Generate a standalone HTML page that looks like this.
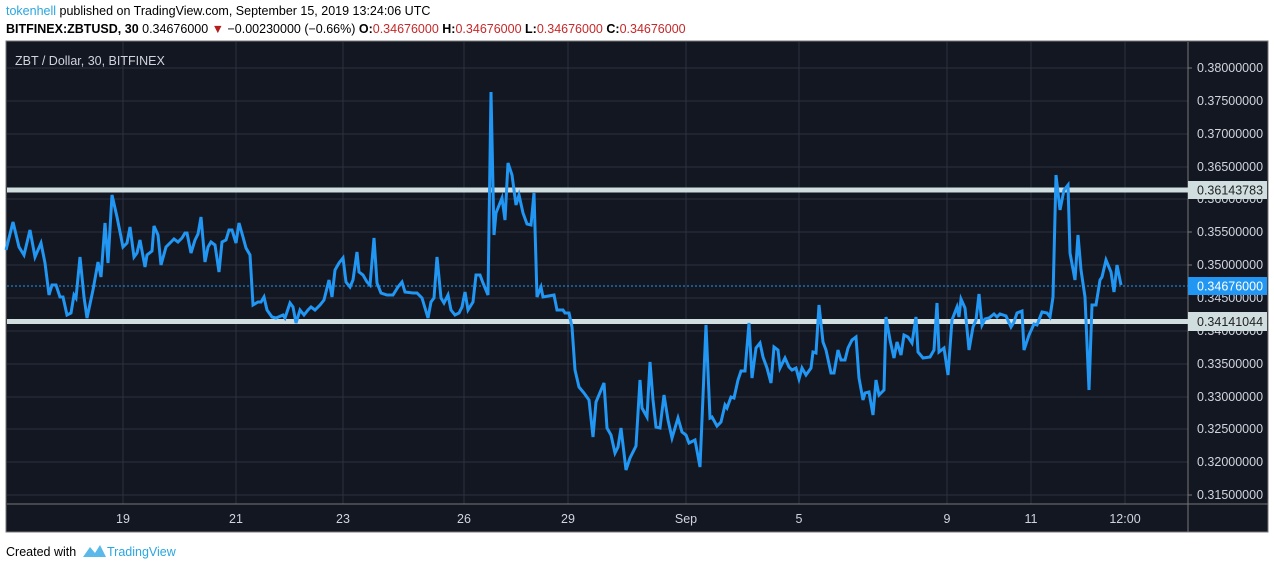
<!DOCTYPE html>
<html><head><meta charset="utf-8"><style>
body{margin:0;width:1274px;height:569px;background:#fff;overflow:hidden;font-family:"Liberation Sans",sans-serif;}
.h{position:absolute;left:6px;font-size:12.5px;color:#000;white-space:nowrap;}
</style></head><body>
<div class="h" style="top:4px"><span style="color:#2aa6e0">tokenhell</span> published on TradingView.com, September 15, 2019 13:24:06 UTC</div>
<div class="h" style="top:22px"><b>BITFINEX:ZBTUSD, 30</b> 0.34676000 <span style="color:#b71c1c">▼</span> −0.00230000 (−0.66%) <b>O:</b><span style="color:#c62828">0.34676000</span> <b>H:</b><span style="color:#c62828">0.34676000</span> <b>L:</b><span style="color:#c62828">0.34676000</span> <b>C:</b><span style="color:#c62828">0.34676000</span></div>
<svg style="position:absolute;left:0;top:0" width="1274" height="569" font-family="Liberation Sans, sans-serif">
<rect x="6" y="41" width="1262" height="491" fill="#131722" stroke="#777" stroke-width="1"/>
<g stroke="#2e3240" stroke-width="1">
<line x1="123" y1="42" x2="123" y2="504"/><line x1="236" y1="42" x2="236" y2="504"/><line x1="343" y1="42" x2="343" y2="504"/><line x1="464" y1="42" x2="464" y2="504"/><line x1="568" y1="42" x2="568" y2="504"/><line x1="686" y1="42" x2="686" y2="504"/><line x1="799" y1="42" x2="799" y2="504"/><line x1="947" y1="42" x2="947" y2="504"/><line x1="1031" y1="42" x2="1031" y2="504"/><line x1="1125" y1="42" x2="1125" y2="504"/>
<line x1="7" y1="68" x2="1188" y2="68"/><line x1="7" y1="101" x2="1188" y2="101"/><line x1="7" y1="134" x2="1188" y2="134"/><line x1="7" y1="167" x2="1188" y2="167"/><line x1="7" y1="199" x2="1188" y2="199"/><line x1="7" y1="232" x2="1188" y2="232"/><line x1="7" y1="265" x2="1188" y2="265"/><line x1="7" y1="298" x2="1188" y2="298"/><line x1="7" y1="331" x2="1188" y2="331"/><line x1="7" y1="364" x2="1188" y2="364"/><line x1="7" y1="397" x2="1188" y2="397"/><line x1="7" y1="429" x2="1188" y2="429"/><line x1="7" y1="462" x2="1188" y2="462"/><line x1="7" y1="495" x2="1188" y2="495"/>
</g>
<line x1="7" y1="504" x2="1268" y2="504" stroke="#777"/>
<line x1="1188" y1="42" x2="1188" y2="532" stroke="#777"/>
<text x="15" y="65" fill="#d1d4dc" font-size="12.5">ZBT / Dollar, 30, BITFINEX</text>
<line x1="7" y1="286" x2="1188" y2="286" stroke="#2196f3" stroke-dasharray="2,2" stroke-width="1"/>
<line x1="7" y1="190" x2="1188" y2="190" stroke="#d1dee0" stroke-width="5"/>
<line x1="7" y1="321.5" x2="1188" y2="321.5" stroke="#d1dee0" stroke-width="5"/>
<polyline fill="none" stroke="#2196f3" stroke-width="3" stroke-linejoin="miter" points="6,250 13,222 19,247 24,255 30,230 35,257 41,243 45,263 49,295 52,285 56,285 60,297 63,297 67,315 71,313 74,295 76,298 80,257 84,297 87,318 93,290 98,262 101,277 105,223 108,263 112,195 117,217 123,247 127,243 130,227 134,257 137,253 140,240 145,267 147,255 152,251 154,226 158,235 161,265 166,247 171,242 174,239 178,242 182,238 185,233 187,233 191,253 195,240 198,234 201,217 205,262 208,247 211,242 215,245 219,272 222,242 226,240 229,230 232,230 236,243 239,223 243,237 246,248 250,255 253,305 258,302 261,302 264,297 267,310 272,317 276,318 283,315 285,318 290,303 293,307 296,323 300,310 304,315 308,310 311,307 315,310 320,305 324,300 329,280 332,297 335,270 339,263 343,258 346,282 350,287 353,280 357,252 359,272 363,275 367,282 370,285 374,238 377,283 381,293 387,295 393,295 398,287 402,282 405,292 413,293 417,293 422,298 428,318 431,302 434,298 437,257 441,298 444,303 448,295 451,310 455,315 459,313 462,307 465,292 468,310 473,302 476,275 480,275 483,283 488,295 491,92 494,235 496,213 502,198 505,220 508,163 512,175 516,205 519,195 523,213 527,224 531,225 534,193 537,297 541,287 543,297 554,295 557,310 563,310 565,313 569,313 572,327 575,370 579,387 584,393 589,400 593,437 596,402 604,383 607,428 611,435 615,453 618,447 621,428 626,470 630,458 636,446 640,380 642,408 647,417 650,362 653,400 656,427 660,428 664,395 668,420 672,438 678,418 682,432 686,435 689,443 695,440 700,467 706,325 710,418 712,417 717,426 721,422 725,405 727,408 731,397 734,398 738,380 741,371 745,371 749,323 752,378 756,348 760,343 763,357 767,368 771,383 774,347 778,350 780,368 785,358 789,367 792,370 796,368 799,379 802,368 806,375 811,368 813,352 816,353 819,305 823,342 826,350 831,373 834,373 838,350 841,360 845,360 848,348 852,340 856,337 859,378 863,400 865,393 869,392 873,415 876,380 879,395 884,390 886,317 890,340 894,358 897,342 901,355 904,335 908,337 912,343 916,317 918,352 923,358 930,357 934,350 937,303 939,352 944,348 948,375 952,320 957,307 959,317 961,299 965,308 969,350 973,327 976,320 979,294 982,325 985,319 989,318 994,314 997,317 1000,314 1006,316 1011,327 1014,322 1017,313 1022,311 1024,350 1029,335 1034,324 1037,325 1042,312 1047,313 1050,317 1053,297 1056,175 1060,210 1064,190 1068,185 1070,253 1075,280 1078,235 1081,270 1085,297 1089,390 1092,305 1096,305 1100,280 1102,277 1106,260 1111,272 1114,292 1117,265 1121,285"/>
<g fill="#d1d4dc" font-size="12.5" stroke="none">
<text x="1197" y="72">0.38000000</text><text x="1197" y="105">0.37500000</text><text x="1197" y="138">0.37000000</text><text x="1197" y="171">0.36500000</text><text x="1197" y="203">0.36000000</text><text x="1197" y="236">0.35500000</text><text x="1197" y="269">0.35000000</text><text x="1197" y="302">0.34500000</text><text x="1197" y="335">0.34000000</text><text x="1197" y="368">0.33500000</text><text x="1197" y="401">0.33000000</text><text x="1197" y="433">0.32500000</text><text x="1197" y="466">0.32000000</text><text x="1197" y="499">0.31500000</text>
</g>
<g stroke="#777"><line x1="1188" x2="1192" y1="68" y2="68"/><line x1="1188" x2="1192" y1="495" y2="495"/><line x1="1188" x2="1192" y1="265" y2="265"/><line x1="1188" x2="1192" y1="232" y2="232"/></g>
<rect x="1188" y="181" width="79" height="18" fill="#d1dee0"/><text x="1197" y="194.5" fill="#222" font-size="12.5">0.36143783</text>
<rect x="1188" y="312" width="79" height="19" fill="#d1dee0"/><text x="1197" y="326" fill="#222" font-size="12.5">0.34141044</text>
<rect x="1188" y="277" width="79" height="18" fill="#2196f3"/><text x="1197" y="290.5" fill="#fff" font-size="12.5">0.34676000</text>
<g fill="#d1d4dc" font-size="12.5" text-anchor="middle">
<text x="123" y="523">19</text><text x="236" y="523">21</text><text x="343" y="523">23</text><text x="464" y="523">26</text><text x="568" y="523">29</text><text x="686" y="523">Sep</text><text x="799" y="523">5</text><text x="947" y="523">9</text><text x="1031" y="523">11</text><text x="1125" y="523">12:00</text>
</g>
<text x="6" y="556" fill="#000" font-size="12.5">Created with</text>
<path d="M83 557 L90 547 L95 553 L100 545 L106 557 Z" fill="#5ab9e8"/>
<text x="107" y="556" fill="#2aa6e0" font-size="12.5">TradingView</text>
</svg>
</body></html>
